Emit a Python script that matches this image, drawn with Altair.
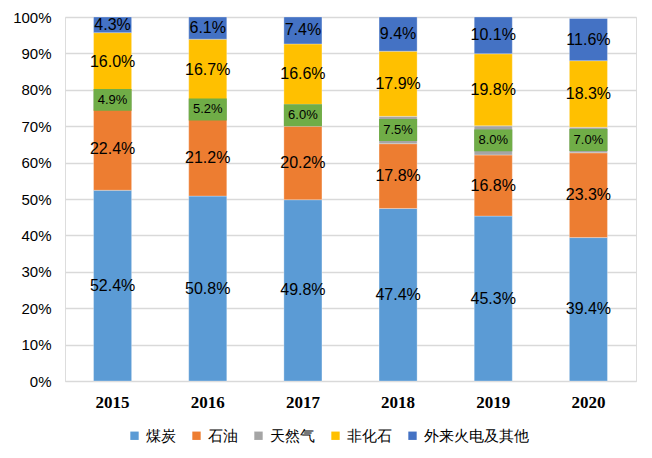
import altair as alt
import pandas as pd

years = ["2015", "2016", "2017", "2018", "2019", "2020"]
series = ["煤炭", "石油", "天然气", "非化石", "外来火电及其他"]
colors = ["#5B9BD5", "#ED7D31", "#A5A5A5", "#FFC000", "#4472C4"]
coal = [52.4, 50.8, 49.8, 47.4, 45.3, 39.4]
oil = [22.4, 21.2, 20.2, 17.8, 16.8, 23.3]
gas = [4.9, 5.2, 6.0, 7.5, 8.0, 7.0]
nonfossil = [16.0, 16.7, 16.6, 17.9, 19.8, 18.3]
other = [4.3, 6.1, 7.4, 9.4, 10.1, 11.6]
y_ticks = [0, 10, 20, 30, 40, 50, 60, 70, 80, 90, 100]

values = [coal, oil, gas, nonfossil, other]
rows = []
for si, (name, vals) in enumerate(zip(series, values)):
    for yr, v in zip(years, vals):
        rows.append({"year": yr, "series": name, "order": si, "value": v})
df = pd.DataFrame(rows)

FONT = "Liberation Sans"

x_enc = alt.X("year:N", title=None,
              scale=alt.Scale(paddingInner=0.6, paddingOuter=0.3),
              axis=alt.Axis(labelAngle=0, labelFont="Liberation Serif", labelFontWeight="bold",
                            labelFontSize=17, labelColor="#000000", labelPadding=13,
                            ticks=False, domain=True, domainColor="#D9D9D9", grid=False))
y_scale = alt.Scale(domain=[0, 100], nice=False)
y_axis = alt.Axis(values=y_ticks, labelExpr="datum.value + '%'", labelFont=FONT,
                  labelFontSize=15, labelColor="#000000", labelPadding=14,
                  labelOverlap=False, tickCount=11,
                  ticks=False, domain=False, gridColor="#D9D9D9", gridWidth=1.5,
                  minExtent=57, maxExtent=57)

base = alt.Chart(df).transform_stack(
    stack="value", groupby=["year"], as_=["lo", "hi"], sort=[alt.SortField("order", order="ascending")]
).transform_calculate(
    mid="(datum.lo + datum.hi) / 2",
    label="format(datum.value, '.1f') + '%'",
    boxlo="(datum.lo + datum.hi) / 2 - 3",
    boxhi="(datum.lo + datum.hi) / 2 + 3",
)

bars = base.mark_bar(stroke="#FFFFFF", strokeWidth=0.3).encode(
    x=x_enc,
    y=alt.Y("lo:Q", title=None, scale=y_scale, axis=y_axis),
    y2="hi:Q",
    color=alt.Color("series:N", scale=alt.Scale(domain=series, range=colors),
                    sort=series,
                    legend=alt.Legend(title=None, orient="none", direction="horizontal",
                                      legendX=62, legendY=411,
                                      symbolType="square", symbolSize=70, symbolStrokeWidth=0,
                                      labelFont=FONT, labelFontSize=15, labelColor="#000000",
                                      columnPadding=13)),
)

box = base.transform_filter(alt.datum.series == "天然气").mark_bar(color="#70AD47").encode(
    x=x_enc,
    y=alt.Y("boxlo:Q", title=None, scale=y_scale, axis=y_axis),
    y2="boxhi:Q",
)

text_main = base.transform_filter(alt.datum.series != "天然气").mark_text(
    font=FONT, fontSize=16, color="#000000", baseline="middle"
).encode(x=x_enc, y=alt.Y("mid:Q", title=None, scale=y_scale, axis=y_axis), text="label:N")

text_gas = base.transform_filter(alt.datum.series == "天然气").mark_text(
    font=FONT, fontSize=13, color="#000000", baseline="middle"
).encode(x=x_enc, y=alt.Y("mid:Q", title=None, scale=y_scale, axis=y_axis), text="label:N")

chart = alt.layer(bars, box, text_main, text_gas).properties(
    width=571, height=364, padding={"left": 0, "top": 2, "right": 8, "bottom": 5}
).configure_view(stroke=None).configure(background="#FFFFFF")

chart.save("out.html", embed_options={"renderer": "svg", "actions": False})
